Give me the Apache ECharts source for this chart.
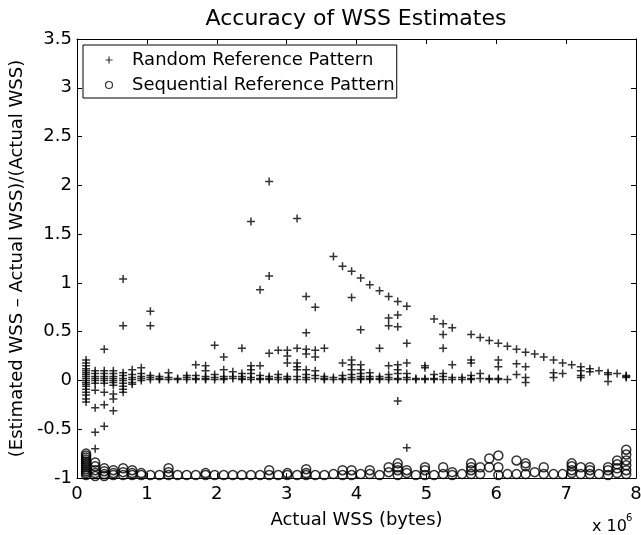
<!DOCTYPE html>
<html><head><meta charset="utf-8">
<script src="https://cdn.jsdelivr.net/npm/echarts@6/dist/echarts.min.js"></script>
<style>html,body{margin:0;padding:0;background:#fff}#c{width:641px;height:535px}</style>
</head><body><div id="c"></div>
<script>
// ---------- data ----------
const titleText = 'Accuracy of WSS Estimates';
const xName = 'Actual WSS (bytes)';
const yName = '(Estimated WSS \u2013 Actual WSS)/(Actual WSS)';
const seriesNames = ['Random Reference Pattern', 'Sequential Reference Pattern'];
const xTicks = [0, 1, 2, 3, 4, 5, 6, 7, 8];          // x 10^6
const yTicks = [-1, -0.5, 0, 0.5, 1, 1.5, 2, 2.5, 3, 3.5];

// [Actual WSS (x10^6 bytes), [relative errors...]]
const randomCols = [
  [0.13, [0.21,0.18,0.15,0.12,0.10,0.08,0.06,0.04,0.02,0.0,-0.02,-0.04,-0.06,-0.09,-0.12,-0.15,-0.19,-0.22]],
  [0.26, [0.10,0.07,0.04,0.02,0.0,-0.03,-0.10,-0.28,-0.53,-0.70]],
  [0.39, [0.32,0.10,0.07,0.04,0.02,0.0,-0.03,-0.12,-0.25,-0.47]],
  [0.52, [0.10,0.07,0.04,0.02,0.0,-0.02,-0.05,-0.14,-0.19,-0.31]],
  [0.66, [1.04,0.56,0.08,0.05,0.02,0.0,-0.03,-0.06,-0.09,-0.12]],
  [0.79, [0.11,0.06,0.03,0.01,-0.02,-0.04]],
  [0.92, [0.13,0.07,0.04,0.02,0.0]],
  [1.05, [0.71,0.56,0.05,0.03,0.01]],
  [1.18, [0.04,0.02,0.01]],
  [1.31, [0.08,0.03,0.01]],
  [1.44, [0.02,0.01]],
  [1.57, [0.05,0.03,0.01]],
  [1.70, [0.16,0.05,0.02,0.01]],
  [1.84, [0.15,0.10,0.04,0.02,0.01]],
  [1.97, [0.36,0.06,0.03,0.01]],
  [2.10, [0.24,0.11,0.04,0.02,0.01]],
  [2.23, [0.09,0.04,0.02]],
  [2.36, [0.33,0.07,0.04,0.02,0.01]],
  [2.49, [1.63,0.15,0.11,0.07,0.03,0.01]],
  [2.62, [0.93,0.15,0.05,0.02,0.01]],
  [2.75, [2.04,1.07,0.28,0.04,0.02,0.01]],
  [2.88, [0.31,0.06,0.03,0.01]],
  [3.01, [0.31,0.25,0.18,0.04,0.02,0.01]],
  [3.15, [1.66,0.33,0.18,0.14,0.11,0.04,0.01]],
  [3.28, [0.86,0.49,0.32,0.27,0.11,0.06,0.03,0.01]],
  [3.41, [0.75,0.31,0.24,0.10,0.05,0.02]],
  [3.54, [0.33,0.04,0.02,0.01]],
  [3.67, [1.27,0.03,0.01]],
  [3.80, [1.17,0.18,0.05,0.02,0.01]],
  [3.93, [1.12,0.85,0.21,0.16,0.11,0.06,0.03,0.01]],
  [4.06, [1.05,0.52,0.16,0.11,0.07,0.04,0.02,0.01]],
  [4.19, [0.98,0.08,0.04,0.02,0.01]],
  [4.33, [0.92,0.33,0.04,0.02,0.01]],
  [4.46, [0.86,0.64,0.56,0.15,0.06,0.03,0.01]],
  [4.59, [0.81,0.67,0.55,0.16,0.11,0.07,0.02,0.01,-0.21]],
  [4.72, [0.76,0.38,0.18,0.07,0.03,0.01,-0.69]],
  [4.85, [0.02,0.01]],
  [4.98, [0.15,0.13,0.02,0.01]],
  [5.11, [0.63,0.06,0.02,0.01]],
  [5.24, [0.58,0.47,0.33,0.07,0.04,0.01]],
  [5.37, [0.54,0.16,0.03,0.01]],
  [5.51, [0.03,0.01]],
  [5.64, [0.47,0.21,0.18,0.05,0.02,0.01]],
  [5.77, [0.44,0.07,0.02]],
  [5.90, [0.41,0.02,0.01]],
  [6.03, [0.38,0.21,0.14,0.02,0.01]],
  [6.16, [0.35,0.01]],
  [6.29, [0.32,0.17,0.06]],
  [6.42, [0.29,0.14,0.03,-0.02]],
  [6.55, [0.27]],
  [6.68, [0.24]],
  [6.82, [0.21,0.08,0.03]],
  [6.95, [0.18,0.07]],
  [7.08, [0.16]],
  [7.21, [0.14,0.10,0.05,0.03]],
  [7.34, [0.12,0.09]],
  [7.47, [0.10]],
  [7.60, [0.08,0.06,-0.01]],
  [7.73, [0.07]],
  [7.86, [0.05,0.04,0.03]]
];

const sequentialCols = [
  [0.13, [-0.75,-0.77,-0.79,-0.81,-0.83,-0.85,-0.87,-0.89,-0.91,-0.93,-0.95,-0.97]],
  [0.26, [-0.84,-0.88,-0.92,-0.95,-0.98]],
  [0.39, [-0.90,-0.93,-0.96,-0.98]],
  [0.52, [-0.92,-0.95,-0.97]],
  [0.66, [-0.90,-0.94,-0.97]],
  [0.79, [-0.92,-0.95,-0.97]],
  [0.92, [-0.95,-0.97]],
  [1.05, [-0.97]],
  [1.18, [-0.97]],
  [1.31, [-0.90,-0.94,-0.97]],
  [1.44, [-0.97]],
  [1.57, [-0.97]],
  [1.70, [-0.97]],
  [1.84, [-0.95,-0.97]],
  [1.97, [-0.97]],
  [2.10, [-0.97]],
  [2.23, [-0.97]],
  [2.36, [-0.97]],
  [2.49, [-0.97]],
  [2.62, [-0.97]],
  [2.75, [-0.92,-0.97]],
  [2.88, [-0.97]],
  [3.01, [-0.95,-0.97]],
  [3.15, [-0.97]],
  [3.28, [-0.91,-0.95,-0.97]],
  [3.41, [-0.97]],
  [3.54, [-0.97]],
  [3.67, [-0.96]],
  [3.80, [-0.92,-0.97]],
  [3.93, [-0.92,-0.97]],
  [4.06, [-0.96]],
  [4.19, [-0.92,-0.96]],
  [4.33, [-0.97]],
  [4.46, [-0.89,-0.94]],
  [4.59, [-0.85,-0.89,-0.92,-0.97]],
  [4.72, [-0.92,-0.95]],
  [4.85, [-0.97]],
  [4.98, [-0.89,-0.92,-0.97]],
  [5.11, [-0.97]],
  [5.24, [-0.89,-0.96]],
  [5.37, [-0.94,-0.97]],
  [5.51, [-0.96]],
  [5.64, [-0.85,-0.89,-0.92,-0.96]],
  [5.77, [-0.89,-0.96]],
  [5.90, [-0.80,-0.89]],
  [6.03, [-0.77,-0.89,-0.97]],
  [6.16, [-0.96]],
  [6.29, [-0.82,-0.96]],
  [6.42, [-0.85,-0.88,-0.96]],
  [6.55, [-0.94]],
  [6.68, [-0.89,-0.96]],
  [6.82, [-0.96]],
  [6.95, [-0.96]],
  [7.08, [-0.85,-0.88,-0.92,-0.95]],
  [7.21, [-0.89,-0.96]],
  [7.34, [-0.89,-0.92,-0.96]],
  [7.47, [-0.96]],
  [7.60, [-0.89,-0.92,-0.97]],
  [7.73, [-0.82,-0.86,-0.90,-0.95]],
  [7.86, [-0.71,-0.76,-0.82,-0.87,-0.92,-0.96]]
];

// ---------- chart ----------
function flatten(cols) {
  const out = [];
  cols.forEach(function (c) { c[1].forEach(function (y) { out.push([c[0], y]); }); });
  return out;
}
const FONT = '"DejaVu Sans", sans-serif';
const PLUS = 'path://M0,5L10,5M5,0L5,10';
const markStyle = { color: 'none', borderColor: '#000', borderWidth: 1.5 };
const legendMarkStyle = { color: 'none', borderColor: '#000', borderWidth: 1.2 };

const axisBase = {
  type: 'value',
  splitLine: { show: false },
  axisLine: { show: true, onZero: false, lineStyle: { color: '#000', width: 1 } },
  axisTick: { show: true, inside: true, length: 5, lineStyle: { color: '#000', width: 1 } }
};
const xMin = xTicks[0], xMax = xTicks[xTicks.length - 1], xInt = xTicks[1] - xTicks[0];
const yMin = yTicks[0], yMax = yTicks[yTicks.length - 1], yInt = yTicks[1] - yTicks[0];

const chart = echarts.init(document.getElementById('c'), null, { renderer: 'canvas' });
chart.setOption({
  animation: false,
  backgroundColor: '#fff',
  title: {
    text: titleText, left: 351, top: 3, textAlign: 'center',
    textStyle: { fontFamily: FONT, fontSize: 22, fontWeight: 'normal', color: '#000' }
  },
  grid: { left: 77, right: 5, top: 39, bottom: 57, containLabel: false, outerBoundsMode: 'none' },
  legend: {
    orient: 'vertical', left: 83, top: 45, padding: [5, 2, 3, 20], itemGap: 5,
    itemWidth: 36, itemHeight: 7,
    borderColor: '#000', borderWidth: 1, backgroundColor: '#fff',
    textStyle: { fontFamily: FONT, fontSize: 18, color: '#000', lineHeight: 20 },
    data: [
      { name: seriesNames[0], icon: PLUS, itemStyle: legendMarkStyle },
      { name: seriesNames[1], icon: 'circle', itemStyle: legendMarkStyle }
    ]
  },
  xAxis: [
    Object.assign({}, axisBase, {
      min: xMin, max: xMax, interval: xInt, position: 'bottom',
      axisLabel: { fontFamily: FONT, fontSize: 18, color: '#000', margin: 7 },
      name: xName, nameLocation: 'middle', nameGap: 33,
      nameTextStyle: { fontFamily: FONT, fontSize: 18, color: '#000' }
    }),
    Object.assign({}, axisBase, {
      min: xMin, max: xMax, interval: xInt, position: 'top', axisLabel: { show: false }
    })
  ],
  yAxis: [
    Object.assign({}, axisBase, {
      min: yMin, max: yMax, interval: yInt, position: 'left',
      axisLabel: { fontFamily: FONT, fontSize: 18, color: '#000', margin: 5 },
      name: yName, nameLocation: 'middle', nameGap: 35,
      nameTextStyle: { fontFamily: FONT, fontSize: 18, color: '#000' }
    }),
    Object.assign({}, axisBase, {
      min: yMin, max: yMax, interval: yInt, position: 'right', axisLabel: { show: false }
    })
  ],
  graphic: [
    { type: 'text', left: 592, top: 519, style: { text: 'x 10', font: '16px "DejaVu Sans"', fill: '#000' } },
    { type: 'text', left: 626, top: 513, style: { text: '6', font: '10px "DejaVu Sans"', fill: '#000' } }
  ],
  series: [
    {
      type: 'scatter', name: seriesNames[0], xAxisIndex: 0, yAxisIndex: 0,
      symbol: PLUS, symbolSize: 8, itemStyle: markStyle,
      emphasis: { disabled: true }, data: flatten(randomCols)
    },
    {
      type: 'scatter', name: seriesNames[1], xAxisIndex: 0, yAxisIndex: 0,
      symbol: 'circle', symbolSize: 9, itemStyle: markStyle, clip: false,
      emphasis: { disabled: true }, data: flatten(sequentialCols)
    }
  ]
});
</script>
</body></html>
